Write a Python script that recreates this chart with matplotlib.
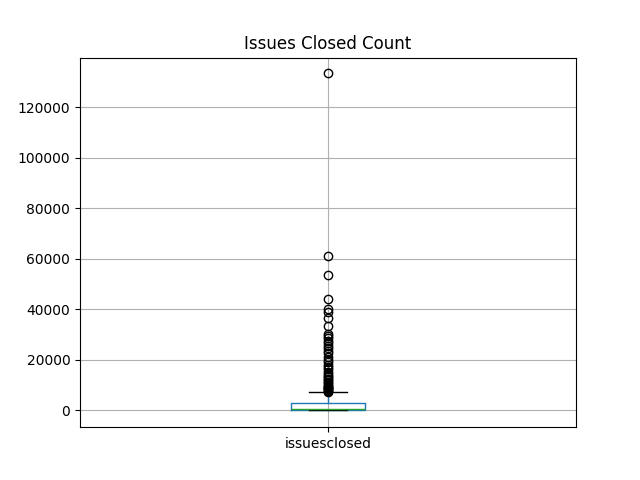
import matplotlib
matplotlib.use('Agg')
import matplotlib.pyplot as plt

# Box statistics
label = 'issuesclosed'
q1 = 150
median = 700
q3 = 2900
whislo = 0
whishi = 7200
fliers = [7400, 7700, 8000, 8300, 8700, 9000, 9400, 9800, 10200, 10700, 11200,
          11800, 12400, 13000, 13700, 14500, 15300, 16200, 17000, 18000, 19000,
          20000, 21000, 22500, 23500, 24500, 25500, 26500, 27500, 28500, 29500,
          30000, 33500, 36500, 39000, 40000, 44000, 53500, 61000, 133500]

stats = [dict(label=label, q1=q1, med=median, q3=q3,
              whislo=whislo, whishi=whishi, fliers=fliers)]

fig, ax = plt.subplots(figsize=(6.4, 4.8), dpi=100)
ax.bxp(stats,
       boxprops=dict(color='C0'),
       whiskerprops=dict(color='C0'),
       medianprops=dict(color='C2'),
       capprops=dict(color='k'),
       flierprops=dict(marker='o', markerfacecolor='none', markeredgecolor='k'))
ax.grid(True)
ax.set_axisbelow(True)
ax.set_ylim(-6700, 139600)
ax.set_title('Issues Closed Count')
plt.savefig('out.png')
